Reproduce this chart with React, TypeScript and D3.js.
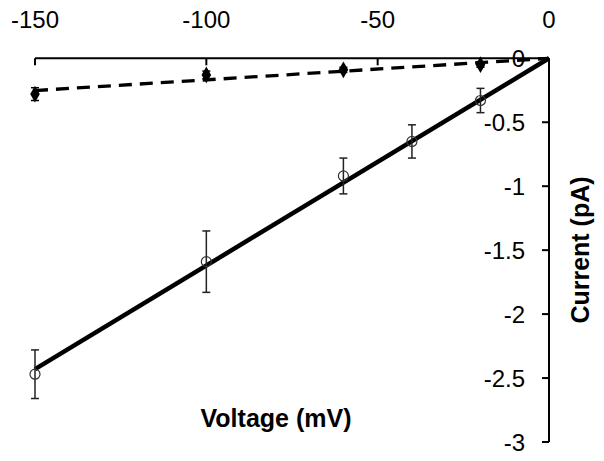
import React from "react";
import * as d3 from "d3";

const voltagesOpen = [-150, -100, -60, -40, -20];
const currentOpen = [-2.47, -1.59, -0.92, -0.65, -0.33];
const errOpen = [0.19, 0.24, 0.14, 0.13, 0.095];

const voltagesFilled = [-150, -100, -60, -20];
const currentFilled = [-0.28, -0.13, -0.09, -0.05];
const errFilled = [0.05, 0.03, 0.02, 0.02];

const xTicks = [-150, -100, -50, 0];
const yTicks = [0, -0.5, -1, -1.5, -2, -2.5, -3];

const W = 604;
const H = 461;

function fitThroughOrigin(xs: number[], ys: number[]) {
  const sxy = d3.sum(xs, (x, i) => x * ys[i]);
  const sxx = d3.sum(xs, (x) => x * x);
  return sxy / sxx;
}

export default function App() {
  const x = d3.scaleLinear().domain([-150, 0]).range([35, 549]);
  const y = d3.scaleLinear().domain([-3, 0]).range([442, 58.3]);
  const font = "'Liberation Sans', Arial, sans-serif";

  const slopeOpen = fitThroughOrigin(voltagesOpen, currentOpen);
  const slopeFilled = fitThroughOrigin(voltagesFilled, currentFilled);
  const fitPath = (slope: number) =>
    d3
      .line<number>()
      .x((v) => x(v))
      .y((v) => y(slope * v))([-150, 0]) as string;

  const diamond = d3.symbol().type(d3.symbolDiamond).size(80)() as string;

  return (
    <svg
      width={W}
      height={H}
      style={{ position: "absolute", left: 0, top: 0, background: "#fff" }}
    >
      <rect x={0} y={0} width={W} height={H} fill="#fff" />
      {/* x axis */}
      <line x1={x(-150)} x2={x(0)} y1={y(0)} y2={y(0)} stroke="#000" strokeWidth={2} />
      {xTicks.map((t) => (
        <g key={"xt" + t}>
          <line x1={x(t)} x2={x(t)} y1={y(0)} y2={y(0) + 7} stroke="#000" strokeWidth={2} />
          <text
            x={x(t)}
            y={28}
            textAnchor="middle"
            fontFamily={font}
            fontSize={24}
            fill="#000"
          >
            {t}
          </text>
        </g>
      ))}
      {/* y axis */}
      <line x1={x(0)} x2={x(0)} y1={y(0)} y2={y(-3)} stroke="#000" strokeWidth={2} />
      {yTicks.map((t) => (
        <g key={"yt" + t}>
          <line x1={x(0) - 7} x2={x(0)} y1={y(t)} y2={y(t)} stroke="#000" strokeWidth={2} />
          <text
            x={525}
            y={y(t) + 9}
            textAnchor="end"
            fontFamily={font}
            fontSize={24}
            fill="#000"
          >
            {t}
          </text>
        </g>
      ))}
      {/* fit lines */}
      <path d={fitPath(slopeFilled)} stroke="#000" strokeWidth={3.3} strokeDasharray="13,8" fill="none" />
      <path d={fitPath(slopeOpen)} stroke="#000" strokeWidth={4.5} fill="none" />
      {/* error bars open */}
      {voltagesOpen.map((v, i) => (
        <g key={"eo" + v} stroke="#222" strokeWidth={1.5}>
          <line x1={x(v)} x2={x(v)} y1={y(currentOpen[i] + errOpen[i])} y2={y(currentOpen[i] - errOpen[i])} />
          <line x1={x(v) - 4} x2={x(v) + 4} y1={y(currentOpen[i] + errOpen[i])} y2={y(currentOpen[i] + errOpen[i])} />
          <line x1={x(v) - 4} x2={x(v) + 4} y1={y(currentOpen[i] - errOpen[i])} y2={y(currentOpen[i] - errOpen[i])} />
          <circle cx={x(v)} cy={y(currentOpen[i])} r={5} fill="none" stroke="#333" strokeWidth={1.2} />
        </g>
      ))}
      {/* filled diamonds */}
      {voltagesFilled.map((v, i) => (
        <g key={"ef" + v} stroke="#000" strokeWidth={1.5}>
          <line x1={x(v)} x2={x(v)} y1={y(currentFilled[i] + errFilled[i])} y2={y(currentFilled[i] - errFilled[i])} />
          <line x1={x(v) - 4} x2={x(v) + 4} y1={y(currentFilled[i] + errFilled[i])} y2={y(currentFilled[i] + errFilled[i])} />
          <line x1={x(v) - 4} x2={x(v) + 4} y1={y(currentFilled[i] - errFilled[i])} y2={y(currentFilled[i] - errFilled[i])} />
          <path d={diamond} transform={`translate(${x(v)},${y(currentFilled[i])})`} fill="#000" stroke="none" />
        </g>
      ))}
      {/* axis titles */}
      <text
        x={276}
        y={427}
        textAnchor="middle"
        fontFamily={font}
        fontSize={25}
        fontWeight="bold"
        fill="#000"
      >
        Voltage (mV)
      </text>
      <text
        transform="translate(589,250) rotate(-90)"
        textAnchor="middle"
        fontFamily={font}
        fontSize={25}
        fontWeight="bold"
        fill="#000"
      >
        Current (pA)
      </text>
    </svg>
  );
}
